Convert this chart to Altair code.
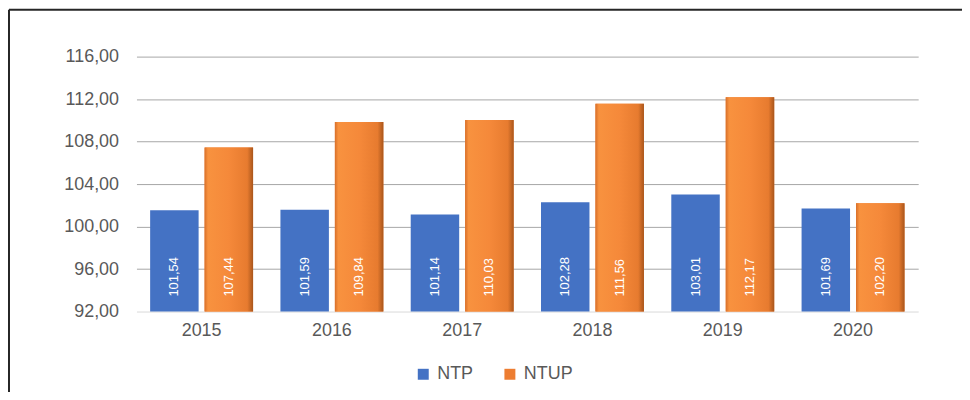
import altair as alt
import pandas as pd

years = ["2015", "2016", "2017", "2018", "2019", "2020"]
ntp = [101.54, 101.59, 101.14, 102.28, 103.01, 101.69]
ntup = [107.44, 109.84, 110.03, 111.56, 112.17, 102.20]
series = ["NTP", "NTUP"]
y_ticks = [92, 96, 100, 104, 108, 112, 116]

rows = []
for i, y in enumerate(years):
    rows.append({"year": y, "series": "NTP", "value": ntp[i]})
    rows.append({"year": y, "series": "NTUP", "value": ntup[i]})
df = pd.DataFrame(rows)

W, H = 785, 256
PAD = {"left": 129, "top": 48, "right": 44, "bottom": 80}
FONT = "Liberation Sans"
TXT = "#595959"

x_enc = alt.X("year:N", sort=years,
              scale=alt.Scale(paddingInner=0.21, paddingOuter=0.105),
              axis=alt.Axis(title=None, labelAngle=0, labelFontSize=18, labelColor=TXT,
                            labelFont=FONT, ticks=False, domainColor="#d9d9d9",
                            domainWidth=1, labelPadding=10, grid=False))
xo_enc = alt.XOffset("series:N", scale=alt.Scale(domain=series, paddingInner=0.11))
y_enc = alt.Y("value:Q",
              scale=alt.Scale(domain=[92, 116], zero=False, nice=False),
              axis=alt.Axis(title=None, values=y_ticks, labelFontSize=18, labelColor=TXT,
                            labelFont=FONT, ticks=False, domain=False, labelPadding=18,
                            labelExpr="replace(format(datum.value, '.2f'), '.', ',')",
                            gridColor={"condition": {"test": "datum.value === 92", "value": "transparent"},
                                       "value": "#a6a6a6"},
                            gridWidth=1))

base = alt.Chart(df)

bars = base.mark_bar().encode(
    x=x_enc, xOffset=xo_enc, y=y_enc, y2=alt.datum(92),
    color=alt.Color("series:N",
                    scale=alt.Scale(domain=series, range=["#4472C4", "#ED7D31"]),
                    legend=alt.Legend(title=None, orient="none", direction="horizontal",
                                      legendX=279, legendY=310,
                                      symbolType="square", symbolSize=121,
                                      symbolStrokeWidth=0,
                                      labelFontSize=18, labelColor=TXT, labelFont=FONT,
                                      labelOffset=5, columnPadding=28)),
)

grad = alt.LinearGradient(
    gradient="linear", x1=0, x2=1, y1=0, y2=0,
    stops=[alt.GradientStop(offset=0, color="#d8702a"),
           alt.GradientStop(offset=0.07, color="#f8923f"),
           alt.GradientStop(offset=0.5, color="#f5893a"),
           alt.GradientStop(offset=0.88, color="#e77b2f"),
           alt.GradientStop(offset=1, color="#a9561c")])

orange = base.transform_filter(alt.datum.series == "NTUP").mark_bar(fill=grad).encode(
    x=x_enc, xOffset=xo_enc, y=y_enc, y2=alt.datum(92),
)

labels = base.transform_calculate(
    lab="replace(format(datum.value, '.2f'), '.', ',')"
).mark_text(angle=270, align="left", baseline="middle", dx=15, color="white",
            fontSize=13, font=FONT).encode(
    x=x_enc, xOffset=xo_enc, y=alt.datum(92), text="lab:N",
)

frame_data = alt.Data(values=[{"k": 1}])
top_line = alt.Chart(frame_data).mark_rule(color="#262626", strokeWidth=2).encode(
    x=alt.value(-PAD["left"] + 1), x2=alt.value(W + PAD["right"]), y=alt.value(-PAD["top"] + 1))
left_line = alt.Chart(frame_data).mark_rule(color="#262626", strokeWidth=2).encode(
    x=alt.value(-PAD["left"] + 1), y=alt.value(-PAD["top"] + 1), y2=alt.value(H + PAD["bottom"] + 10))

chart = alt.layer(bars, orange, labels, top_line, left_line).properties(
    width=W, height=H,
    autosize=alt.AutoSizeParams(type="none"),
    padding=PAD,
    background="white",
).configure_view(stroke=None)

chart.save("out.html", embed_options={"renderer": "svg", "actions": False})
